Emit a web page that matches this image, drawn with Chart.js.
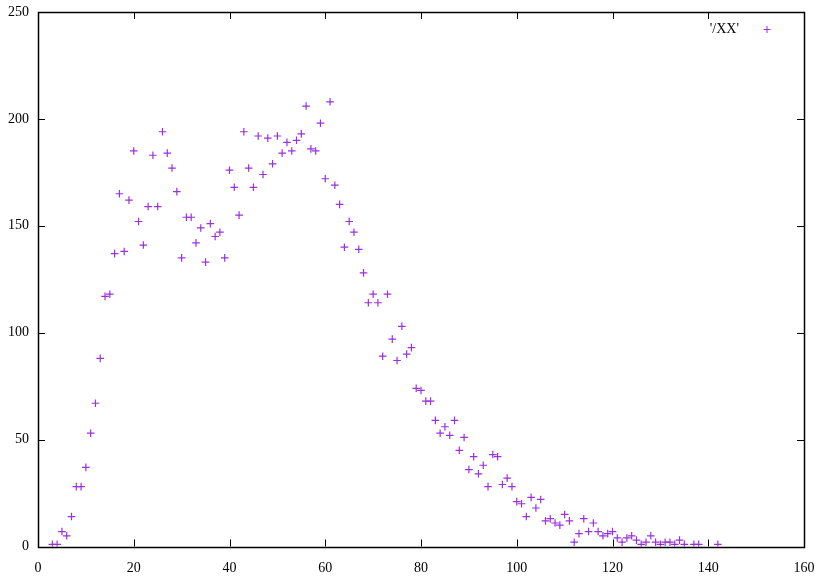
<!DOCTYPE html>
<html>
<head>
<meta charset="utf-8">
<script src="https://cdn.jsdelivr.net/npm/chart.js@4"></script>
<style>
  html, body { margin: 0; padding: 0; background: #fff; }
  #plot { display: block; }
</style>
</head>
<body>
<canvas id="plot" width="822" height="578"></canvas>
<script>
// x positions and counts
const xs = [
  3, 4, 5, 6, 7, 8, 9, 10, 11, 12, 13, 14, 15, 16, 17, 18, 19, 20,
  21, 22, 23, 24, 25, 26, 27, 28, 29, 30, 31, 32, 33, 34, 35, 36, 37, 38, 39, 40,
  41, 42, 43, 44, 45, 46, 47, 48, 49, 50, 51, 52, 53, 54, 55, 56, 57, 58, 59, 60,
  61, 62, 63, 64, 65, 66, 67, 68, 69, 70, 71, 72, 73, 74, 75, 76, 77, 78, 79, 80,
  81, 82, 83, 84, 85, 86, 87, 88, 89, 90, 91, 92, 93, 94, 95, 96, 97, 98, 99, 100,
  101, 102, 103, 104, 105, 106, 107, 108, 109, 110, 111, 112, 113, 114, 115, 116, 117, 118, 119, 120,
  121, 122, 123, 124, 125, 126, 127, 128, 129, 130, 131, 132, 133, 134, 135, 137, 138, 142
];
const counts = [
  1, 1, 7, 5, 14, 28, 28, 37, 53, 67, 88, 117, 118, 137, 165, 138, 162, 185,
  152, 141, 159, 183, 159, 194, 184, 177, 166, 135, 154, 154, 142, 149, 133, 151, 145, 147, 135, 176,
  168, 155, 194, 177, 168, 192, 174, 191, 179, 192, 184, 189, 185, 190, 193, 206, 186, 185, 198, 172,
  208, 169, 160, 140, 152, 147, 139, 128, 114, 118, 114, 89, 118, 97, 87, 103, 90, 93, 74, 73,
  68, 68, 59, 53, 56, 52, 59, 45, 51, 36, 42, 34, 38, 28, 43, 42, 29, 32, 28, 21,
  20, 14, 23, 18, 22, 12, 13, 11, 10, 15, 12, 2, 6, 13, 7, 11, 7, 5, 6, 7,
  4, 2, 4, 5, 3, 1, 2, 5, 2, 1, 2, 2, 1, 3, 1, 1, 1, 1
];
const seriesName = "'/XX'";
const xTicks = [0, 20, 40, 60, 80, 100, 120, 140, 160];
const yTicks = [0, 50, 100, 150, 200, 250];

const purple = '#9a30de';
const font = { family: '"Liberation Serif", "Times New Roman", serif', size: 14 };

// gnuplot style frame with inward ticks on all four sides, plus key
const frame = {
  id: 'frame',
  afterDraw(chart) {
    const { ctx, chartArea: a, scales } = chart;
    ctx.save();
    ctx.strokeStyle = '#000';
    ctx.lineWidth = 1;
    ctx.beginPath();
    const len = 7;
    xTicks.forEach(v => {
      const p = Math.round(scales.x.getPixelForValue(v)) + 0.5;
      ctx.moveTo(p, a.bottom); ctx.lineTo(p, a.bottom - len);
      ctx.moveTo(p, a.top); ctx.lineTo(p, a.top + len);
    });
    yTicks.forEach(v => {
      const p = Math.round(scales.y.getPixelForValue(v)) + 0.5;
      ctx.moveTo(a.left, p); ctx.lineTo(a.left + len, p);
      ctx.moveTo(a.right, p); ctx.lineTo(a.right - len, p);
    });
    ctx.stroke();
    ctx.lineWidth = 1.5;
    ctx.strokeRect(Math.round(a.left) + 0.5, Math.round(a.top) + 0.5,
      Math.round(a.right - a.left), Math.round(a.bottom - a.top));

    // key
    ctx.fillStyle = '#000';
    ctx.font = `${font.size}px ${font.family}`;
    ctx.textAlign = 'right';
    ctx.textBaseline = 'middle';
    ctx.fillText(chart.data.datasets[0].label, 739, 29);
    ctx.strokeStyle = purple;
    ctx.lineWidth = 1;
    const cx = 767, cy = 29.5;
    ctx.beginPath();
    ctx.moveTo(cx - 3.5, cy); ctx.lineTo(cx + 3.5, cy);
    ctx.moveTo(cx, cy - 3.5); ctx.lineTo(cx, cy + 3.5);
    ctx.stroke();
    ctx.restore();
  }
};

new Chart(document.getElementById('plot'), {
  type: 'scatter',
  data: {
    datasets: [{
      label: seriesName,
      data: xs.map((x, i) => ({ x, y: counts[i] })),
      pointStyle: 'cross',
      pointRadius: 3.8,
      pointBorderWidth: 1.2,
      borderColor: purple,
      backgroundColor: purple
    }]
  },
  options: {
    responsive: false,
    animation: false,
    layout: { padding: { left: 0, right: 18, top: 12, bottom: 0 } },
    plugins: { legend: { display: false }, tooltip: { enabled: false } },
    scales: {
      x: {
        type: 'linear', min: 0, max: 160,
        afterBuildTicks: s => { s.ticks = xTicks.map(v => ({ value: v })); },
        afterFit: s => { s.height = 31.5; s.paddingLeft = 0; s.paddingRight = 0; },
        grid: { display: false, drawTicks: false, tickLength: 0 },
        border: { display: false },
        ticks: { color: '#000', font, padding: 13, maxRotation: 0 }
      },
      y: {
        type: 'linear', min: 0, max: 250,
        afterBuildTicks: s => { s.ticks = yTicks.map(v => ({ value: v })); },
        afterFit: s => { s.width = 38; s.paddingTop = 0; s.paddingBottom = 0; },
        grid: { display: false, drawTicks: false, tickLength: 0 },
        border: { display: false },
        ticks: { color: '#000', font, padding: 9 }
      }
    }
  },
  plugins: [frame]
});
</script>
</body>
</html>
